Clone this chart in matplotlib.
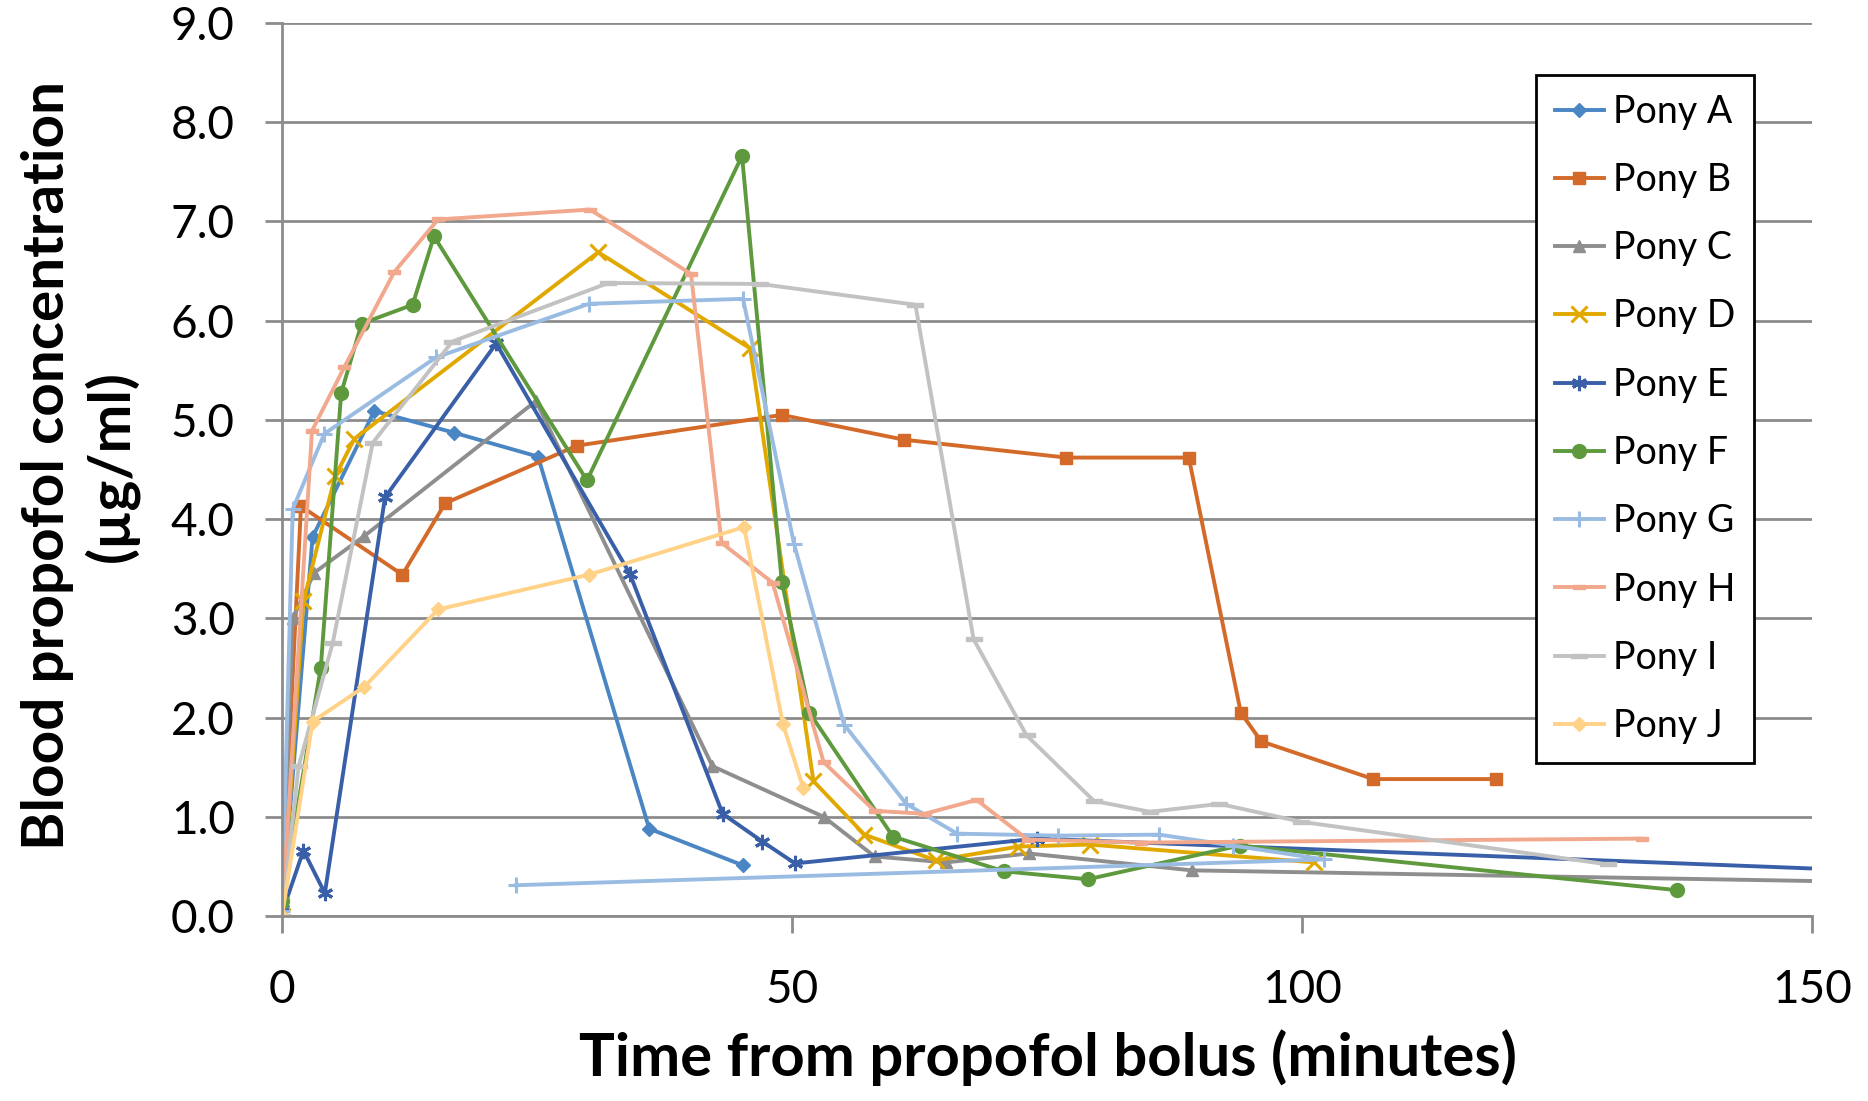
import matplotlib
matplotlib.use("Agg")
import matplotlib.pyplot as plt

plt.rcParams['font.family'] = ['Lato', 'DejaVu Sans']

# ---- data (time in minutes, concentration in ug/ml) ----
pony_names = ["Pony A", "Pony B", "Pony C", "Pony D", "Pony E",
              "Pony F", "Pony G", "Pony H", "Pony I", "Pony J"]

a_t = [0, 3.0, 9.05, 16.9, 25.1, 36.0, 45.2]
a_c = [0.1, 3.82, 5.09, 4.87, 4.63, 0.88, 0.51]

b_t = [0, 1.86, 11.8, 16.0, 28.9, 49.0, 61.0, 76.9, 88.9, 94.0, 96.0, 107.0, 119.0]
b_c = [0.2, 4.13, 3.44, 4.16, 4.74, 5.05, 4.80, 4.62, 4.62, 2.05, 1.76, 1.38, 1.38]

c_t = [0, 1.05, 3.17, 8.07, 24.9, 42.2, 53.1, 58.1, 65.1, 73.2, 89.2, 180.0]
c_c = [0.05, 3.0, 3.46, 3.83, 5.19, 1.51, 1.0, 0.60, 0.54, 0.63, 0.46, 0.30]

d_t = [0, 2.1, 5.2, 7.1, 31.0, 45.9, 52.1, 57.1, 64.1, 72.2, 79.2, 101.2]
d_c = [0.0, 3.17, 4.43, 4.81, 6.69, 5.72, 1.36, 0.82, 0.56, 0.70, 0.72, 0.54]

e_t = [0, 2.1, 4.2, 10.1, 21.0, 34.1, 43.2, 47.1, 50.3, 74.0, 180.0]
e_c = [0.03, 0.66, 0.23, 4.22, 5.77, 3.45, 1.03, 0.75, 0.53, 0.78, 0.36]

f_t = [0, 3.8, 5.8, 7.8, 12.8, 14.9, 29.9, 45.1, 49.0, 51.7, 59.9, 70.8, 79.0, 93.9, 136.8]
f_c = [0.15, 2.50, 5.27, 5.97, 6.16, 6.85, 4.39, 7.66, 3.37, 2.05, 0.80, 0.45, 0.37, 0.71, 0.26]

g_t = [0, 1.05, 4.15, 15.1, 30.1, 45.2, 50.2, 55.1, 61.2, 66.2, 76.1, 86.0, 93.2, 102.2, 22.9]
g_c = [0.05, 4.10, 4.86, 5.63, 6.17, 6.22, 3.75, 1.93, 1.13, 0.83, 0.81, 0.82, 0.71, 0.57, 0.31]

h_t = [0, 2.94, 6.1, 11.0, 15.3, 30.2, 40.1, 43.1, 48.1, 53.1, 58.1, 63.0, 68.1, 73.1, 84.2, 133.3]
h_c = [0.0, 4.89, 5.53, 6.49, 7.02, 7.12, 6.47, 3.76, 3.36, 1.55, 1.06, 1.03, 1.17, 0.77, 0.74, 0.78]

i_t = [0, 1.63, 4.97, 8.9, 16.7, 32.0, 46.9, 62.1, 67.8, 73.0, 79.6, 85.1, 91.9, 99.9, 130.0]
i_c = [0.0, 1.51, 2.75, 4.77, 5.79, 6.38, 6.37, 6.16, 2.79, 1.82, 1.16, 1.05, 1.13, 0.95, 0.52]

j_t = [0, 3.0, 8.07, 15.3, 30.1, 45.3, 49.1, 51.1]
j_c = [0.0, 1.96, 2.31, 3.09, 3.44, 3.92, 1.94, 1.29]

x_ticks = [0, 50, 100, 150]
y_ticks = [0, 1, 2, 3, 4, 5, 6, 7, 8, 9]

# ---- styles ----
colors = ["#4A86C3", "#D46A2A", "#8E8E8E", "#E1A900", "#3A5FA9",
          "#5E9A3D", "#9BBCE2", "#F1A88C", "#C2C2C2", "#FFD287"]
dash_short = [(-1, -0.38), (1, -0.38), (1, 0.38), (-1, 0.38), (-1, -0.38)]
dash_long = [(-1, -0.25), (1, -0.25), (1, 0.25), (-1, 0.25), (-1, -0.25)]
markers = ["D", "s", "^", "x", (6, 2, 0), "o", "+", dash_short, dash_long, "D"]
msizes = [7, 9, 9, 11, 11, 10, 11, 8, 12, 7]

series = [(a_t, a_c), (b_t, b_c), (c_t, c_c), (d_t, d_c), (e_t, e_c),
          (f_t, f_c), (g_t, g_c), (h_t, h_c), (i_t, i_c), (j_t, j_c)]

fig = plt.figure(figsize=(18.68, 11.01), dpi=100)
ax = fig.add_axes([282/1868, 1-916/1101, (1812-282)/1868, (916-23)/1101])

grid_col = "#8C8C8C"
for (t, c), name, col, mk, ms in zip(series, pony_names, colors, markers, msizes):
    ax.plot(t, c, color=col, lw=2.8, marker=mk, markersize=ms,
            markeredgewidth=2.2 if mk in ("x", "+") or isinstance(mk, tuple) else 1,
            markerfacecolor=col, markeredgecolor=col, label=name, clip_on=True)

ax.set_xlim(0, 150)
ax.set_ylim(0, 9)
ax.set_xticks(x_ticks)
ax.set_yticks(y_ticks)
ax.set_xticklabels([str(v) for v in x_ticks])
ax.set_yticklabels([f"{v:.1f}" for v in y_ticks])
ax.yaxis.grid(True, color=grid_col, lw=2.0)
ax.set_axisbelow(True)
for s in ["top", "right"]:
    ax.spines[s].set_visible(False)
for s in ["left", "bottom"]:
    ax.spines[s].set_color(grid_col)
    ax.spines[s].set_linewidth(2.0)
ax.tick_params(axis="x", length=12, width=2.0, color=grid_col, pad=26, labelsize=33)
ax.tick_params(axis="y", length=12, width=2.0, color=grid_col, pad=22, labelsize=33)

fig.text(1048/1868, 1-1058/1101, "Time from propofol bolus (minutes)",
         ha="center", va="center", fontsize=43, fontweight="bold")
fig.text(80/1868, 1-466/1101, "Blood propofol concentration\n(\u00b5g/ml)",
         ha="center", va="center", rotation=90, fontsize=42, fontweight="bold",
         multialignment="center", linespacing=1.2)

leg = ax.legend(loc="upper left", bbox_to_anchor=(1536/1868, 1-75/1101),
                bbox_transform=fig.transFigure, fontsize=27, frameon=True,
                fancybox=False, edgecolor="black", framealpha=1,
                handlelength=1.3, handletextpad=0.25, labelspacing=0.86,
                borderpad=0.5, borderaxespad=0)
leg.get_frame().set_linewidth(2.0)

fig.savefig("out.png", dpi=100)
